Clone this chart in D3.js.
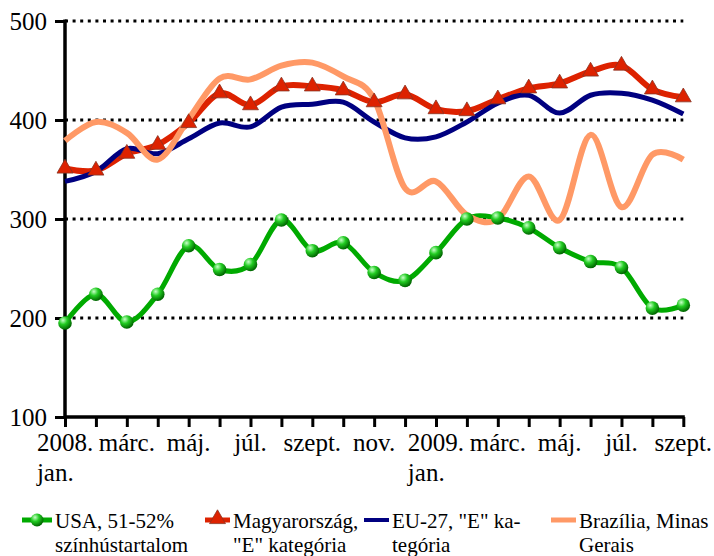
<!DOCTYPE html>
<html><head><meta charset="utf-8">
<script src="https://cdn.jsdelivr.net/npm/d3@7"></script>
<style>
html,body{margin:0;padding:0;background:#fff;}
svg{display:block;}
</style></head>
<body>
<svg id="chart" width="714" height="556"></svg>
<script>
const months = ["2008. jan.","febr.","márc.","ápr.","máj.","jún.","júl.","aug.","szept.","okt.","nov.","dec.",
                "2009. jan.","febr.","márc.","ápr.","máj.","jún.","júl.","aug.","szept."];
const usa = [195,224,196,224,273,249,254,299,268,276,246,238,266,300,301,291,271,257,251,210,213];
const hun = [351,349,366,375,397,427,415,434,434,430,418,426,411,409,421,432,437,449,455,431,423];
const eu  = [338,348,371,366,381,397,393,413,416,418,398,382,383,398,417,425,407,425,427,420,406];
const bra = [379,398,387,360,401,442,441,455,458,444,421,331,338,304,300,343,299,385,312,365,360];
const yTicks = [100,200,300,400,500];
const seriesNames = ["USA, 51-52%|színhústartalom","Magyarország,|\"E\" kategória","EU-27, \"E\" ka-|tegória","Brazília, Minas|Gerais"];

const FONT = "'Liberation Serif', 'Times New Roman', 'DejaVu Serif', serif";
const svg = d3.select("#chart");
const defs = svg.append("defs");
const grad = defs.append("radialGradient").attr("id","ball").attr("cx","35%").attr("cy","30%").attr("r","70%");
grad.append("stop").attr("offset","0%").attr("stop-color","#c8ffc8");
grad.append("stop").attr("offset","45%").attr("stop-color","#22cc22");
grad.append("stop").attr("offset","100%").attr("stop-color","#006600");

const x = d3.scalePoint().domain(d3.range(months.length)).range([65,683.3]);
const y = d3.scaleLinear().domain([100,500]).range([417,21]);

// gridlines
svg.append("g").selectAll("line").data(yTicks.filter(d=>d>100)).join("line")
  .attr("x1",65).attr("x2",683.3).attr("y1",d=>y(d)).attr("y2",d=>y(d))
  .attr("stroke","#000").attr("stroke-width",3).attr("stroke-dasharray","3,4.6");

// axes
const yAxis = svg.append("g").attr("transform","translate(65,0)")
  .call(d3.axisLeft(y).tickValues(yTicks).tickSize(10).tickPadding(8));
yAxis.select(".domain").remove();
yAxis.selectAll(".tick line").attr("stroke","#000").attr("stroke-width",3);
yAxis.selectAll(".tick text").style("font-family",FONT).style("font-size","25px").attr("fill","#000");
svg.append("line").attr("x1",65).attr("x2",65).attr("y1",y(500)-1.5).attr("y2",y(100)+1.5)
  .attr("stroke","#000").attr("stroke-width",3.5);

const xAxis = svg.append("g").attr("transform","translate(0,417)")
  .call(d3.axisBottom(x).tickSize(10).tickFormat(""));
xAxis.select(".domain").remove();
xAxis.selectAll(".tick line").attr("stroke","#000").attr("stroke-width",3);
svg.append("line").attr("x1",65).attr("x2",683.3+1.5).attr("y1",417).attr("y2",417)
  .attr("stroke","#000").attr("stroke-width",3.5);

// x labels
const lab = svg.append("g");
months.forEach((m,i)=>{
  if(i%2) return;
  const parts = m.split(" ");
  let l1 = parts[0], l2 = parts.length>1 ? parts.slice(1).join(" ") : null;
  const t = lab.append("text").attr("x",x(i)).attr("y",451)
    .style("font-family",FONT).style("font-size","25px")
    .attr("text-anchor","middle").text(l1);
  if(l2){
    const w = t.node().getComputedTextLength();
    lab.append("text").attr("x",x(i)-w/2).attr("y",481)
      .style("font-family",FONT).style("font-size","25px").text(l2);
  }
});

// lines
const line = d3.line().x((d,i)=>x(i)).y(d=>y(d)).curve(d3.curveCardinal.tension(0));
const styles = [
  {data:usa,color:"#00aa00",w:5},
  {data:hun,color:"#dd2200",w:6},
  {data:eu,color:"#000080",w:5},
  {data:bra,color:"#ff9966",w:6}
];
styles.forEach(s=>{
  svg.append("path").datum(s.data).attr("d",line).attr("fill","none")
    .attr("stroke",s.color).attr("stroke-width",s.w).attr("stroke-linejoin","round");
});

// markers
const tri = d3.symbol().type(d3.symbolTriangle).size(110);
svg.append("g").selectAll("path").data(hun).join("path")
  .attr("d",tri).attr("transform",(d,i)=>`translate(${x(i)},${y(d)})`)
  .attr("fill","#dd2200").attr("stroke","#883322").attr("stroke-width",0.8);
svg.append("g").selectAll("circle").data(usa).join("circle")
  .attr("cx",(d,i)=>x(i)).attr("cy",d=>y(d)).attr("r",6.8)
  .attr("fill","url(#ball)");

// legend
const legX = [22,205,364,551];
const lg = svg.append("g");
seriesNames.forEach((n,i)=>{
  const s = styles[i];
  const x0 = legX[i];
  const x1 = (i===0) ? x0+30 : x0+25;
  lg.append("line").attr("x1",x0).attr("x2",x1).attr("y1",520).attr("y2",520)
    .attr("stroke",s.color).attr("stroke-width",i===2?4:5);
  const mx = (x0+x1)/2;
  if(i===0) lg.append("circle").attr("cx",mx).attr("cy",520).attr("r",6.5).attr("fill","url(#ball)");
  if(i===1) lg.append("path").attr("d",tri).attr("transform",`translate(${mx},519)`)
    .attr("fill","#dd2200").attr("stroke","#883322").attr("stroke-width",0.8);
  lg.append("text").attr("x",x1+3).attr("y",528).style("font-family",FONT).style("font-size","21px").text(n.split("|")[0]);
  lg.append("text").attr("x",x1+3).attr("y",552).style("font-family",FONT).style("font-size","21px").text(n.split("|")[1]);
});
</script>
</body></html>
